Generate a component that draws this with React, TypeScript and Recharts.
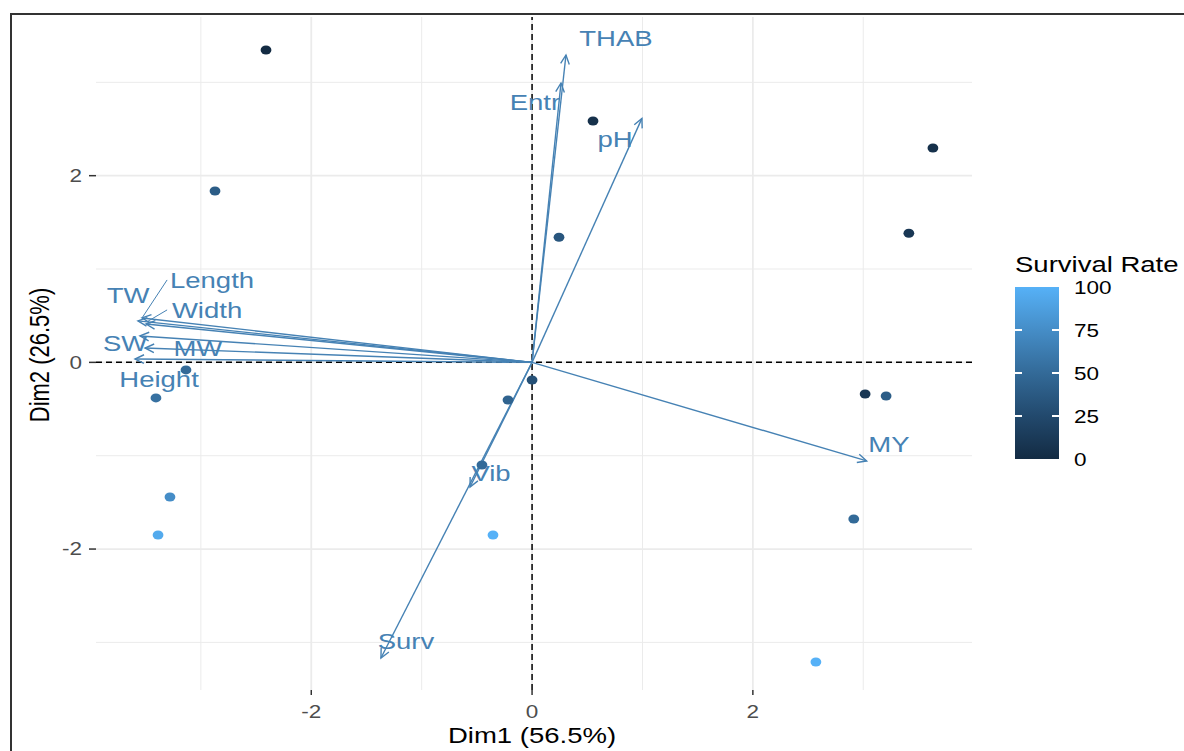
import React from 'react'
import { CartesianGrid, ReferenceLine, Scatter, ScatterChart, XAxis, YAxis } from 'recharts'

// individuals (PCA scores) and their survival rate
const indDim1 = [-2.41, -2.872, 0.552, 3.631, 3.413, 0.244, -3.135, -3.407, 0.0, -0.218, 3.017, 3.207, -0.454, -3.28, -3.388, -0.354, 2.914, 2.571]
const indDim2 = [3.347, 1.836, 2.586, 2.297, 1.383, 1.34, -0.081, -0.381, -0.189, -0.403, -0.339, -0.36, -1.1, -1.442, -1.849, -1.849, -1.678, -3.21]
const indSurvival = [0, 40, 5, 5, 10, 35, 50, 55, 30, 45, 10, 40, 50, 75, 95, 100, 50, 100]

// variables (arrow tips) and where their labels sit
const varNames = ['THAB', 'Entr', 'pH', 'MY', 'Vib', 'Surv', 'TW', 'Length', 'Width', 'SW', 'MW', 'Height']
const varDim1 = [0.307, 0.262, 0.995, 3.031, -0.562, -1.369, -3.57, -3.533, -3.497, -3.552, -3.506, -3.597]
const varDim2 = [3.293, 2.993, 2.614, -1.056, -1.335, -3.167, 0.444, 0.476, 0.411, 0.283, 0.154, 0.036]
const labelDim1 = [0.76, 0.026, 0.751, 3.232, -0.372, -1.142, -3.66, -2.899, -2.944, -3.687, -3.026, -3.379]
const labelDim2 = [3.476, 2.79, 2.393, -0.874, -1.181, -2.985, 0.722, 0.883, 0.562, 0.208, 0.154, -0.178]

// repel segments from a label to its arrow tip
const linkFrom = [{ x: -3.306, y: 0.883 }, { x: -3.306, y: 0.562 }]
const linkTo = [{ x: -3.533, y: 0.476 }, { x: -3.48, y: 0.44 }]

const majorTicks = [-2, 0, 2]
const minorTicks = [-3, -1, 1, 3]
const legendTicks = [100, 75, 50, 25, 0]

const FONT = '"Liberation Sans", Arial, sans-serif'
const VAR_COLOR = '#4682B4'
// ggplot default gradient (Lab interpolated), sampled at 0, .25, .5, .75, 1
const STOPS = [
  [0x13, 0x2b, 0x43],
  [0x22, 0x49, 0x6d],
  [0x33, 0x6a, 0x98],
  [0x45, 0x8d, 0xc7],
  [0x56, 0xb1, 0xf7],
]

function survColor(v: number) {
  const t = Math.max(0, Math.min(1, v / 100)) * 4
  const i = Math.min(3, Math.floor(t))
  const f = t - i
  const c = STOPS[i].map((l, k) => Math.round(l + (STOPS[i + 1][k] - l) * f))
  return `rgb(${c[0]},${c[1]},${c[2]})`
}

const points = indDim1.map((x, i) => ({ x, y: indDim2[i], surv: indSurvival[i] }))
const labels = varNames.map((name, i) => ({ x: labelDim1[i], y: labelDim2[i], name }))

const XTick = (props: any) => {
  const { x, y, payload } = props
  return (
    <text transform={`translate(${x},${y}) scale(1.25,1)`} textAnchor="middle" dy="0.71em" fontSize={18} fill="#4D4D4D" fontFamily={FONT}>
      {payload.value}
    </text>
  )
}

const YTick = (props: any) => {
  const { x, y, payload } = props
  return (
    <text transform={`translate(${x},${y}) scale(1.25,1)`} textAnchor="end" dy="0.355em" fontSize={18} fill="#4D4D4D" fontFamily={FONT}>
      {payload.value}
    </text>
  )
}

const arrowShape = (props: any) => {
  const { x1, y1, x2, y2 } = props
  const ang = Math.atan2(y2 - y1, x2 - x1)
  const len = 10
  const a = Math.PI / 7
  const h1 = `${x2 - len * Math.cos(ang - a)},${y2 - len * Math.sin(ang - a)}`
  const h2 = `${x2 - len * Math.cos(ang + a)},${y2 - len * Math.sin(ang + a)}`
  return (
    <g>
      <line x1={x1} y1={y1} x2={x2} y2={y2} stroke={VAR_COLOR} strokeWidth={1.4} />
      <polyline points={`${h1} ${x2},${y2} ${h2}`} fill="none" stroke={VAR_COLOR} strokeWidth={1.4} />
    </g>
  )
}

const linkShape = (props: any) => {
  const { x1, y1, x2, y2 } = props
  return <line x1={x1} y1={y1} x2={x2} y2={y2} stroke={VAR_COLOR} strokeWidth={1} />
}

const PointShape = (props: any) => {
  const { cx, cy, payload } = props
  return <ellipse cx={cx} cy={cy} rx={5.4} ry={4.5} fill={survColor(payload.surv)} />
}

const LabelShape = (props: any) => {
  const { cx, cy, payload } = props
  return (
    <text transform={`translate(${cx},${cy}) scale(1.25,1)`} textAnchor="middle" dy="0.36em" fontSize={22} fill={VAR_COLOR} fontFamily={FONT}>
      {payload.name}
    </text>
  )
}

export default function App() {
  return (
    <div style={{ position: 'absolute', left: 0, top: 0, width: 1184, height: 751, background: '#fff', overflow: 'hidden' }}>
      <div style={{ position: 'absolute', left: 10, top: 13, right: 0, bottom: 0, borderLeft: '2px solid #333', borderTop: '2px solid #333' }} />
      <ScatterChart width={1184} height={751} margin={{ top: 17, right: 212, bottom: 21, left: 16 }} style={{ position: 'absolute', left: 0, top: 0 }}>
        <CartesianGrid stroke="#EBEBEB" strokeWidth={1} horizontalValues={minorTicks} verticalValues={minorTicks} />
        <CartesianGrid stroke="#EBEBEB" strokeWidth={1.8} horizontalValues={majorTicks} verticalValues={majorTicks} />
        <XAxis
          type="number"
          dataKey="x"
          domain={[-3.95, 3.985]}
          ticks={majorTicks}
          allowDataOverflow
          axisLine={false}
          tickLine={{ stroke: '#333', strokeWidth: 1.5 }}
          tickSize={5}
          tickMargin={10}
          height={40}
          tick={<XTick />}
        />
        <YAxis
          type="number"
          dataKey="y"
          domain={[-3.51, 3.7]}
          ticks={majorTicks}
          allowDataOverflow
          axisLine={false}
          tickLine={{ stroke: '#333', strokeWidth: 1.5 }}
          tickSize={7}
          tickMargin={7}
          width={80}
          tick={<YTick />}
        />
        <ReferenceLine x={0} stroke="#000" strokeWidth={1.5} strokeDasharray="6 4" />
        <ReferenceLine y={0} stroke="#000" strokeWidth={1.5} strokeDasharray="6 4" />
        <Scatter data={points} shape={<PointShape />} isAnimationActive={false} />
        {varNames.map((name, i) => (
          <ReferenceLine
            key={name}
            segment={[{ x: 0, y: 0 }, { x: varDim1[i], y: varDim2[i] }]}
            ifOverflow="visible"
            shape={arrowShape}
          />
        ))}
        {linkFrom.map((p, i) => (
          <ReferenceLine key={`link-${i}`} segment={[p, linkTo[i]]} ifOverflow="visible" shape={linkShape} />
        ))}
        <Scatter data={labels} shape={<LabelShape />} isAnimationActive={false} />
      </ScatterChart>

      <div style={{ position: 'absolute', left: 446, top: 723, width: 172, textAlign: 'center', fontFamily: FONT, fontSize: 22, color: '#000', transform: 'scaleX(1.25)', whiteSpace: 'nowrap' }}>
        Dim1 (56.5%)
      </div>
      <div style={{ position: 'absolute', left: 40, top: 355, width: 0, height: 0 }}>
        <div style={{ position: 'absolute', left: -90, top: -13, width: 180, textAlign: 'center', fontFamily: FONT, fontSize: 22, color: '#000', whiteSpace: 'nowrap', transform: 'scaleX(1.25) rotate(-90deg)' }}>
          Dim2 (26.5%)
        </div>
      </div>

      {/* colour bar legend */}
      <div style={{ position: 'absolute', left: 1015, top: 252, fontFamily: FONT, fontSize: 22, lineHeight: '25px', color: '#000', whiteSpace: 'nowrap', transform: 'scaleX(1.25)', transformOrigin: 'left' }}>
        Survival Rate
      </div>
      <div style={{ position: 'absolute', left: 1015, top: 287, width: 44, height: 172, background: `linear-gradient(to top, ${STOPS.map((_, i) => survColor(i * 25)).join(', ')})` }}>
        {legendTicks.slice(1, 4).map((v) => (
          <React.Fragment key={v}>
            <div style={{ position: 'absolute', left: 0, top: ((100 - v) / 100) * 172 - 1, width: 7, height: 2, background: '#fff' }} />
            <div style={{ position: 'absolute', right: 0, top: ((100 - v) / 100) * 172 - 1, width: 7, height: 2, background: '#fff' }} />
          </React.Fragment>
        ))}
      </div>
      {legendTicks.map((v) => (
        <div key={v} style={{ position: 'absolute', left: 1074, top: 287 + ((100 - v) / 100) * 172 - 9, fontFamily: FONT, fontSize: 18, lineHeight: '20px', color: '#000', transform: 'scaleX(1.25)', transformOrigin: 'left' }}>
          {v}
        </div>
      ))}
    </div>
  )
}
